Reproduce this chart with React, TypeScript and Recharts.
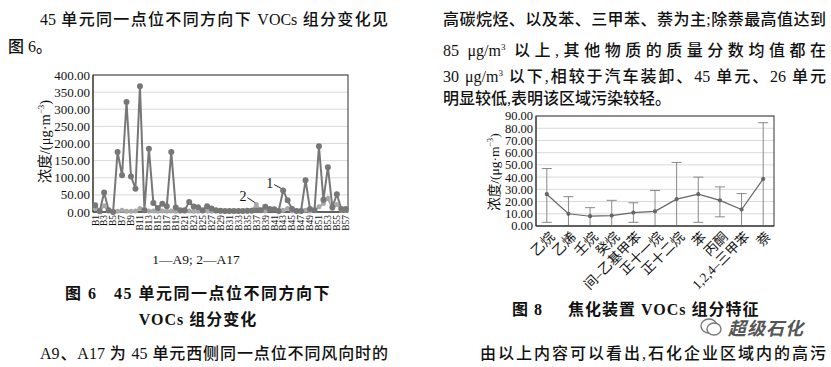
import * as R from 'recharts'
import {
  LineChart, Line, XAxis, YAxis, CartesianGrid, ErrorBar, ReferenceLine, ReferenceDot,
} from 'recharts'

// 图6: 45 单元 B1..B57
const points = Array.from({ length: 57 }, (_, i) => `B${i + 1}`)
const a9 = [
  20, 2, 57, 5, 0, 175, 107, 321, 104, 68,
  367, 5, 185, 26, 12, 24, 17, 175, 13, 5,
  5, 29, 16, 14, 5, 17, 10, 5, 4, 3,
  3, 3, 3, 3, 4, 4, 5, 5, 15, 8,
  8, 3, 63, 34, 9, 3, 3, 93, 9, 5,
  192, 36, 131, 14, 52, 9, 9,
]
const a17 = [
  10, 3, 18, 3, 2, 2, 5, 2, 2, 3,
  10, 8, 3, 3, 2, 3, 2, 3, 2, 2,
  2, 3, 2, 2, 2, 3, 2, 2, 2, 2,
  2, 2, 2, 2, 2, 5, 22, 5, 3, 10,
  8, 3, 5, 10, 3, 3, 3, 5, 3, 5,
  15, 25, 40, 10, 22, 5, 5,
]
const leftTicks = [0, 50, 100, 150, 200, 250, 300, 350, 400]

// 图8: 焦化装置
const compounds = ['乙烷', '乙烯', '壬烷', '癸烷', '间–乙基甲苯', '正十一烷', '正十二烷', '苯', '丙酮', '1,2,4–三甲苯', '萘']
const means = [26, 10, 8, 8.5, 11, 12, 22, 26, 21, 13.5, 38.5]
const errLow = [23, 10, 8, 8.5, 8, 12, 22, 23, 13.5, 13.5, 38.5]
const errHigh = [21, 14, 7, 12.5, 8, 17, 30, 14, 11, 13, 46]
const rightTicks = [0, 10, 20, 30, 40, 50, 60, 70, 80, 90]

const fig6 = points.map((name, i) => ({ name, a9: a9[i], a17: a17[i] }))
const fig8 = compounds.map((name, i) => ({ name, v: means[i], err: [errLow[i], errHigh[i]] }))

const SERIF = "'Liberation Serif', 'Noto Sans CJK SC', serif"
const INK = '#111'
const fmt = (v: number) => v.toFixed(2)
const usePlot: any = (R as any).usePlotArea

// box round the plot area
const Frame = () => {
  const pa = usePlot ? usePlot() : null
  if (!pa) return null
  return <rect x={pa.x} y={pa.y} width={pa.width} height={pa.height} fill="none" stroke="#333" strokeWidth={1} />
}

const VTick = ({ x, y, payload }: any) => (
  <text x={x} y={y} transform={`rotate(-90 ${x} ${y})`} textAnchor="end" dy="0.35em"
    fontSize={9.5} fontFamily={SERIF} fill={INK}>{payload.value}</text>
)

const SlantTick = ({ x, y, payload }: any) => (
  <text x={x + 2} y={y + 3} transform={`rotate(-45 ${x + 2} ${y + 3})`} textAnchor="end" dy="0.7em"
    fontSize={13.5} fontFamily={SERIF} fill={INK}>{payload.value}</text>
)

// rotated unit label, placed from the axis box
const unitLabel = (dx: number, size: number, dy = 0) => ({ viewBox }: any) => {
  const x = viewBox.x + dx
  const y = viewBox.y + viewBox.height / 2 + dy
  return (
    <text x={x} y={y} transform={`rotate(-90 ${x} ${y})`} textAnchor="middle" dy="0.35em"
      fontSize={size} fontFamily={SERIF} fill={INK}>
      <tspan>浓度/(μg·m</tspan>
      <tspan fontSize={size * 0.62} dy={-size * 0.4}>−3</tspan>
      <tspan dy={size * 0.4}>)</tspan>
    </text>
  )
}

const line = (top: number, left: number, width: number | undefined, text: any, extra: any = {}) => (
  <div style={{
    position: 'absolute', top, left, width, fontSize: 16, lineHeight: '20px', fontFamily: SERIF,
    color: INK, whiteSpace: 'nowrap', textAlign: width ? 'justify' : 'left', fontWeight: 500,
    textAlignLast: width ? 'justify' : 'auto', ...extra,
  } as any}>{text}</div>
)

const leftTick = { fontSize: 13, fontFamily: SERIF, fill: INK }
const rightTick = { fontSize: 12.5, fontFamily: SERIF, fill: INK }

export default function App() {
  return (
    <div style={{ position: 'absolute', left: 0, top: 0, width: 831, height: 367, background: '#fff', overflow: 'hidden' }}>
      {line(10, 40, 348, '45 单元同一点位不同方向下 VOCs 组分变化见')}
      {line(37, 8, undefined, '图 6。')}
      {line(10, 443, 383, '高碳烷烃、以及苯、三甲苯、萘为主;除萘最高值达到')}
      {line(37, 443, 383, <>85 μg/m<sup style={{ fontSize: 9 }}>3</sup> 以上,其他物质的质量分数均值都在</>)}
      {line(63, 443, 383, <>30 μg/m<sup style={{ fontSize: 9 }}>3</sup> 以下,相较于汽车装卸、45 单元、26 单元</>)}
      {line(89, 443, undefined, '明显较低,表明该区域污染较轻。')}

      <div style={{ position: 'absolute', left: 0, top: 60 }}>
        <LineChart width={360} height={190} data={fig6} margin={{ top: 15, right: 12, left: 33, bottom: 0 }}>
          <CartesianGrid horizontal vertical={false} stroke="#d9d9d9" />
          <XAxis dataKey="name" interval={1} tick={<VTick />} tickSize={0} tickMargin={3}
            padding={{ left: 2.2, right: 2.2 }} axisLine={{ stroke: '#333' }} height={38} />
          <YAxis domain={[0, 400]} ticks={leftTicks} interval={0} tickFormatter={fmt} width={60} tickSize={0} tickMargin={3}
            tick={leftTick} axisLine={{ stroke: '#333' }} label={unitLabel(12, 14.5, -2)} />
          <Frame />
          <Line dataKey="a17" stroke="#a9a9a9" strokeWidth={2} isAnimationActive={false}
            dot={{ r: 1.5, fill: '#a9a9a9', stroke: '#a9a9a9' }} />
          <Line dataKey="a9" stroke="#777" strokeWidth={2} isAnimationActive={false}
            dot={{ r: 2, fill: '#777', stroke: '#777' }} />
          <ReferenceLine segment={[{ x: 'B41', y: 80 }, { x: 'B43', y: 66 }]} stroke="#222" />
          <ReferenceLine segment={[{ x: 'B35', y: 42 }, { x: 'B37', y: 25 }]} stroke="#222" />
          <ReferenceDot x="B40" y={84} r={0} stroke="none"
            label={{ value: '1', position: 'center', fontSize: 14, fontFamily: SERIF, fill: INK }} />
          <ReferenceDot x="B34" y={46} r={0} stroke="none"
            label={{ value: '2', position: 'center', fontSize: 14, fontFamily: SERIF, fill: INK }} />
        </LineChart>
      </div>
      <div style={{ position: 'absolute', left: 96, top: 252, width: 200, textAlign: 'center', fontSize: 13.5, fontFamily: SERIF, color: INK }}>
        1—A9; 2—A17
      </div>
      {line(284, 40, 316, '图 6   45 单元同一点位不同方向下', { textAlign: 'center', textAlignLast: 'center', fontWeight: 'bold', whiteSpace: 'pre', letterSpacing: 1.5 })}
      {line(310, 40, 316, 'VOCs 组分变化', { textAlign: 'center', textAlignLast: 'center', fontWeight: 'bold', letterSpacing: 1 })}
      {line(344, 40, 348, 'A9、A17 为 45 单元西侧同一点位不同风向时的')}

      <div style={{ position: 'absolute', left: 470, top: 100 }}>
        <LineChart width={320} height={196} data={fig8} margin={{ top: 16, right: 16, left: 16, bottom: 0 }}>
          <CartesianGrid horizontal vertical={false} stroke="#d9d9d9" />
          <XAxis dataKey="name" interval={0} tick={<SlantTick />} tickSize={0} tickMargin={2}
            padding={{ left: 10.8, right: 10.8 }} axisLine={{ stroke: '#333' }} height={70} />
          <YAxis domain={[0, 90]} ticks={rightTicks} interval={0} tickFormatter={fmt} width={50} tickSize={0} tickMargin={3}
            tick={rightTick} axisLine={{ stroke: '#333' }} label={unitLabel(8, 13.5, 1)} />
          <Frame />
          <Line dataKey="v" stroke="#666" strokeWidth={1.2} isAnimationActive={false}
            dot={{ r: 1.5, fill: '#666', stroke: '#666' }}>
            <ErrorBar dataKey="err" direction="y" width={5} stroke="#888" strokeWidth={1} />
          </Line>
        </LineChart>
      </div>
      {line(300, 512, 250, '图 8     焦化装置 VOCs 组分特征', { fontWeight: 'bold', whiteSpace: 'pre', textAlign: 'left', textAlignLast: 'auto', letterSpacing: 1 })}
      {line(344, 480, 346, '由以上内容可以看出,石化企业区域内的高污')}

      <div style={{ position: 'absolute', left: 700, top: 314, display: 'flex', alignItems: 'center', gap: 6, color: '#555' }}>
        <svg width={22} height={20}>
          <ellipse cx={9} cy={9} rx={8} ry={7} fill="none" stroke="#777" strokeWidth={1.4} />
          <ellipse cx={14} cy={12} rx={7} ry={6} fill="#fff" stroke="#777" strokeWidth={1.4} />
        </svg>
        <span style={{ fontSize: 18, fontFamily: "'Noto Sans CJK SC'", fontStyle: 'italic', fontWeight: 'bold', letterSpacing: 1 }}>超级石化</span>
      </div>
    </div>
  )
}
